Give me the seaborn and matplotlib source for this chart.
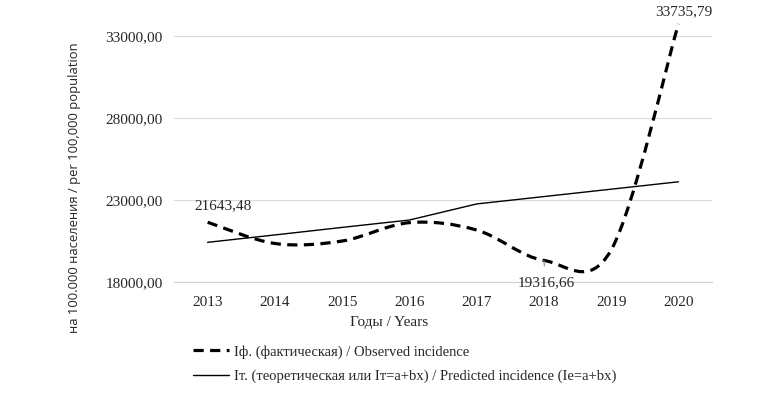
import numpy as np
import pandas as pd
import matplotlib
matplotlib.use("Agg")
import matplotlib.pyplot as plt
import seaborn as sns
from matplotlib.path import Path
from matplotlib.patches import PathPatch
from matplotlib.lines import Line2D

# ---- data ----
years = ["2013", "2014", "2015", "2016", "2017", "2018", "2019", "2020"]
observed = [21643.48, 20350.0, 20500.0, 21620.0, 21170.0, 19316.66, 19950.0, 33735.79]
predicted = [20420.0, 20870.0, 21330.0, 21780.0, 22760.0, 23210.0, 23660.0, 24110.0]
y_ticks = [18000, 23000, 28000, 33000]
label_idx = [0, 5, 7]
label_txt = ["21643,48", "19316,66", "33735,79"]

sns.set_theme(style="white")
plt.rcParams["font.family"] = ["Liberation Serif", "DejaVu Serif"]

fig = plt.figure(figsize=(7.73, 3.93), dpi=100)
ax = fig.add_axes([0.2251, 0.2824, 0.696, 0.626])

xs = np.arange(len(years))
df = pd.DataFrame({"x": xs, "predicted": predicted})
sns.lineplot(data=df, x="x", y="predicted", ax=ax, color="black", lw=1.0,
             clip_on=False, zorder=3)

# smoothed observed line (Excel-like cubic Bezier through the points)
yo = np.array(observed)
verts = [(xs[0], yo[0])]
codes = [Path.MOVETO]
n = len(xs)
for i in range(n - 1):
    p0 = np.array((xs[max(i - 1, 0)], yo[max(i - 1, 0)]), float)
    p1 = np.array((xs[i], yo[i]), float)
    p2 = np.array((xs[i + 1], yo[i + 1]), float)
    p3 = np.array((xs[min(i + 2, n - 1)], yo[min(i + 2, n - 1)]), float)
    c1 = p1 + (p2 - p0) / 6.0
    c2 = p2 - (p3 - p1) / 6.0
    verts += [tuple(c1), tuple(c2), tuple(p2)]
    codes += [Path.CURVE4] * 3
patch = PathPatch(Path(verts, codes), facecolor="none", edgecolor="black",
                  lw=2.3, linestyle=(0, (3.2, 2.0)), clip_on=False, zorder=4)
ax.add_patch(patch)

ax.set_xlim(-0.5, len(years) - 0.5)
ax.set_ylim(18000, 33000)
ax.set_yticks(y_ticks)
ax.set_yticklabels([f"{v:.2f}".replace(".", ",") for v in y_ticks])
ax.set_xticks(xs)
ax.set_xticklabels(years)
ax.set_xticks(np.arange(-0.5, len(years), 1.0), minor=True)
ax.tick_params(axis="x", which="major", length=0, pad=10, labelsize=11)
ax.tick_params(axis="x", which="minor", length=6.5, direction="inout",
               color="#d0d0d0", width=0.8)
ax.tick_params(axis="y", length=0, pad=8, labelsize=11)
ax.grid(axis="y", color="#d9d9d9", lw=0.8)
ax.set_axisbelow(True)
for s in ["top", "right", "left"]:
    ax.spines[s].set_visible(False)
ax.spines["bottom"].set_color("#d0d0d0")
ax.spines["bottom"].set_linewidth(0.8)

# data labels
offsets = {0: (11, 12), 5: (1.5, -16), 7: (4, 9)}
for i, t in zip(label_idx, label_txt):
    dx, dy = offsets[i]
    arrow = dict(arrowstyle="-", color="#8c8c8c", lw=0.8, shrinkA=5, shrinkB=0) if i == 5 else None
    ax.annotate(t, xy=(xs[i], yo[i]), xytext=(dx, dy), textcoords="offset points",
                ha="center", va="center", fontsize=11, arrowprops=arrow,
                annotation_clip=False, zorder=5)

ax.set_xlabel("Годы / Years", fontsize=11)
ax.xaxis.set_label_coords(0.40, -0.14)
ax.set_ylabel("на 100.000 населения / per 100,000 population", fontsize=9.4,
              family=["Open Sans", "DejaVu Sans"])
ax.yaxis.set_label_coords(-0.172, 0.382)

handles = [
    Line2D([], [], color="black", lw=2.3, linestyle=(0, (3.2, 2.0))),
    Line2D([], [], color="black", lw=1.0),
]
labels = ["Iф. (фактическая) / Observed incidence",
          "Iт. (теоретическая или Iт=a+bx) / Predicted incidence (Ie=a+bx)"]
fig.legend(handles, labels, loc="upper left", bbox_to_anchor=(193 / 773, 1 - 345 / 393),
           frameon=False, fontsize=10.5, handlelength=2.5, handletextpad=0.3,
           labelspacing=0.75, borderaxespad=0, borderpad=0)

fig.savefig("out.png", dpi=100)
